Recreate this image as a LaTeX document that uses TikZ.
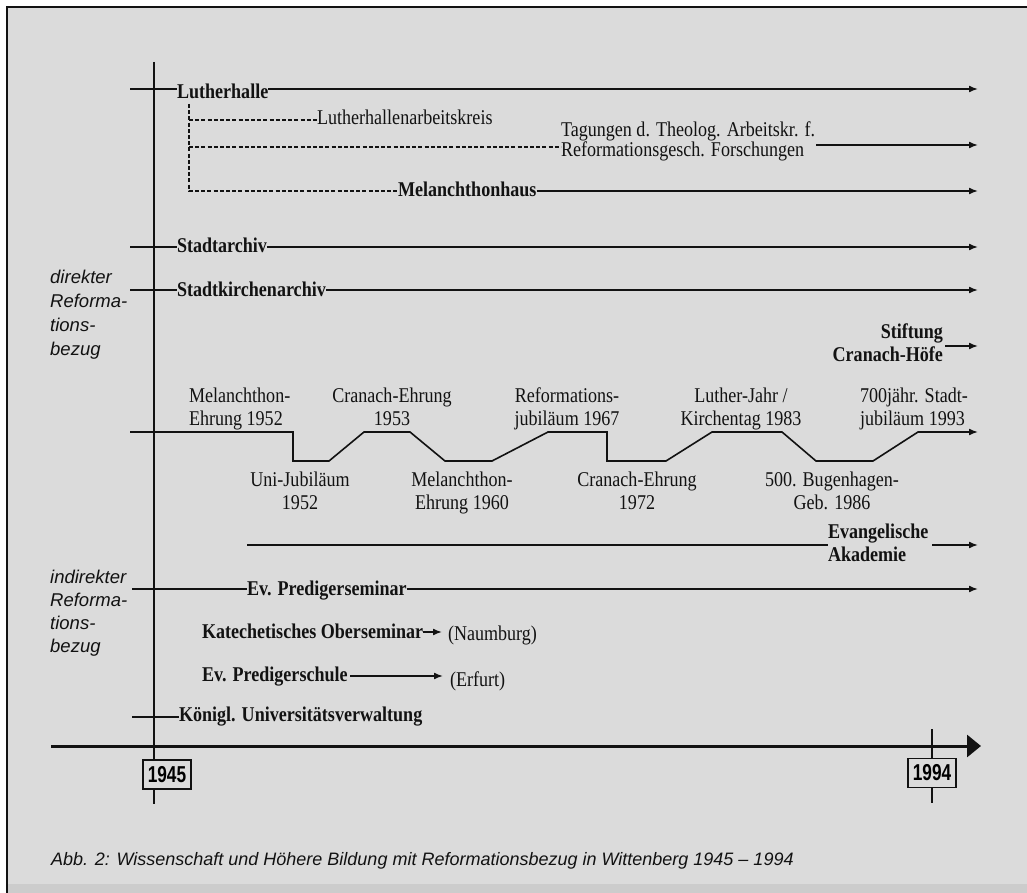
\documentclass[tikz,border=0pt]{standalone}
\usepackage{fontspec}
\setmainfont[FakeStretch=0.86]{Liberation Serif}
\setsansfont{Liberation Sans}
\usetikzlibrary{arrows.meta}
\definecolor{bg}{RGB}{219,219,219}
\definecolor{bgdark}{RGB}{204,204,204}
\definecolor{ink}{RGB}{18,18,18}
\tikzset{
  ln/.style={draw=ink, line width=1.6pt},
  arr/.style={ln, -{Latex[length=9pt,width=7pt]}},
  dsh/.style={draw=ink, line width=1.1pt, dash pattern=on 4pt off 2.2pt},
  txt/.style={inner sep=0pt, outer sep=0pt, text=ink, font=\fontsize{21}{23}\selectfont},
  btxt/.style={inner sep=0pt, outer sep=0pt, text=ink, font=\fontsize{21}{23}\selectfont\bfseries},
  side/.style={inner sep=0pt, text=ink, font=\fontsize{18.5}{24}\selectfont\sffamily\itshape, align=left, anchor=base west},
  yearbox/.style={draw=ink, line width=1.6pt, fill=bg, minimum width=48pt, minimum height=29pt, inner sep=0pt, font=\fontsize{23}{23}\selectfont\sffamily\bfseries},
}
\begin{document}
\begin{tikzpicture}[x=1pt,y=-1pt]
\useasboundingbox (0,0) rectangle (1027,893);
% background and frame
\fill[white] (0,0) rectangle (1027,893);
\fill[bg] (7,7) rectangle (1027,893);
\fill[bgdark] (7,884) rectangle (1027,893);
\draw[ink, line width=2.8pt] (7,893) -- (7,7) -- (1027,7);

% year boxes and axes
\node[yearbox] (y45) at (167,774.5) {\scalebox{0.75}[1]{1945}};
\node[yearbox] (y94) at (932,773) {\scalebox{0.75}[1]{1994}};
\coordinate (vtop) at (154,62);
\coordinate (vbot) at (154,804);
\draw[ln] (vtop) -- (vtop |- y45.north);
\draw[ln] (vbot |- y45.south) -- (vbot);
\coordinate (t0) at (51,746);
\coordinate (t1) at (981,746);
\draw[ink, line width=3pt, -{Triangle[length=14pt,width=22pt]}] (t0) -- (t1);
\coordinate (y94t) at (932,729);
\coordinate (y94b) at (932,803);
\draw[ln] (y94t) -- (y94.north);
\draw[ln] (y94.south) -- (y94b);

% side labels (anchor = baseline of last line)
\node[side] (dir) at (50,355) {direkter\\Reforma-\\tions-\\bezug};
\node[side, font=\fontsize{18.5}{23}\selectfont\sffamily\itshape] (indir) at (50,652) {indirekter\\Reforma-\\tions-\\bezug};

% Lutherhalle
\node[btxt, anchor=base west] (lh) at (177,99) {Lutherhalle};
\coordinate (lh0) at (130,89);
\coordinate (lh1) at (978,89);
\draw[ln] (lh0) -- (lh.west |- lh0);
\draw[arr] (lh.east |- lh0) -- (lh1);

% dashed branches
\node[txt, anchor=base west] (lak) at (317,125) {Lutherhallenarbeitskreis};
\node[txt, anchor=base west, align=left, font=\fontsize{21}{19}\selectfont] (tag) at (561,157) {Tagungen d. Theolog. Arbeitskr. f.\\Reformationsgesch. Forschungen};
\node[btxt, anchor=base west] (mh) at (398,197) {Melanchthonhaus};
\coordinate (d0) at (189,104);
\coordinate (d1) at (189,120);
\coordinate (d2) at (189,147);
\coordinate (d3) at (189,191);
\draw[dsh] (d0) -- (d3) -- (mh.west |- d3);
\draw[dsh] (d1) -- (lak.west |- d1);
\draw[dsh] (d2) -- (tag.west |- d2);
\coordinate (tg0) at (816,145);
\coordinate (tg1) at (978,145);
\draw[arr] (tg0) -- (tg1);
\coordinate (mh1) at (978,191);
\draw[arr] (mh.east |- d3) -- (mh1);

% Stadtarchiv
\node[btxt, anchor=base west] (sa) at (177,253) {Stadtarchiv};
\coordinate (sa0) at (130,247);
\coordinate (sa1) at (978,247);
\draw[ln] (sa0) -- (sa.west |- sa0);
\draw[arr] (sa.east |- sa0) -- (sa1);

% Stadtkirchenarchiv
\node[btxt, anchor=base west] (ska) at (177,296) {Stadtkirchenarchiv};
\coordinate (ska0) at (130,290);
\coordinate (ska1) at (978,290);
\draw[ln] (ska0) -- (ska.west |- ska0);
\draw[arr] (ska.east |- ska0) -- (ska1);

% Stiftung Cranach-Hoefe
\node[btxt, anchor=base east, align=right] (stift) at (943,361) {Stiftung\\Cranach-Höfe};
\coordinate (st0) at (945,346);
\coordinate (st1) at (978,346);
\draw[arr] (st0) -- (st1);

% zigzag of anniversaries
\coordinate (z0) at (130,432);
\coordinate (z1) at (978,432);
\draw[ln, -{Latex[length=9pt,width=7pt]}] (z0) -- (293,432) -- (293,461) -- (329,461) -- (364,432) -- (410,432)
  -- (445,461) -- (492,461) -- (548,432) -- (607,432) -- (607,461) -- (666,461) -- (712,432)
  -- (782,432) -- (816,461) -- (873,461) -- (918,432) -- (z1);
\node[txt, anchor=base west, align=left] (a1) at (189,425) {Melanchthon-\\Ehrung 1952};
\node[txt, anchor=base, align=center] (a2) at (392,425) {Cranach-Ehrung\\1953};
\node[txt, anchor=base, align=center] (a3) at (567,425) {Reformations-\\jubiläum 1967};
\node[txt, anchor=base, align=center] (a4) at (741,425) {Luther-Jahr /\\Kirchentag 1983};
\node[txt, anchor=base west, align=left] (a5) at (860,425) {700jähr. Stadt-\\jubiläum 1993};
\node[txt, anchor=base, align=center] (b1) at (300,509) {Uni-Jubiläum\\1952};
\node[txt, anchor=base, align=center] (b2) at (462,509) {Melanchthon-\\Ehrung 1960};
\node[txt, anchor=base, align=center] (b3) at (637,509) {Cranach-Ehrung\\1972};
\node[txt, anchor=base, align=center] (b4) at (832,509) {500. Bugenhagen-\\Geb. 1986};

% Evangelische Akademie
\node[btxt, anchor=base west, align=left] (ea) at (828,561) {Evangelische\\Akademie};
\coordinate (ea0) at (247,545);
\draw[ln] (ea0) -- (ea.west |- ea0);
\coordinate (ea1) at (932,545);
\coordinate (ea2) at (978,545);
\draw[arr] (ea1) -- (ea2);

% Ev. Predigerseminar
\node[btxt, anchor=base west] (eps) at (247,595) {Ev. Predigerseminar};
\coordinate (eps0) at (132,589);
\coordinate (eps1) at (978,589);
\draw[ln] (eps0) -- (eps.west |- eps0);
\draw[arr] (eps.east |- eps0) -- (eps1);

% Katechetisches Oberseminar
\node[btxt, anchor=base west] (kat) at (202,638) {Katechetisches Oberseminar};
\node[txt, anchor=base west] (naum) at (448,640) {(Naumburg)};
\coordinate (kat0) at (421,632);
\draw[arr] (kat.east |- kat0) -- ([xshift=-6pt]naum.west |- kat0);

% Ev. Predigerschule
\node[btxt, anchor=base west] (epsch) at (202,681) {Ev. Predigerschule};
\node[txt, anchor=base west] (erf) at (450,686) {(Erfurt)};
\coordinate (ep0) at (350,676);
\coordinate (ep1) at (443,676);
\draw[arr] (ep0) -- (ep1);

% Koenigl. Universitaetsverwaltung
\node[btxt, anchor=base west] (kuv) at (179,721) {Königl. Universitätsverwaltung};
\coordinate (kuv0) at (132,717);
\draw[ln] (kuv0) -- (kuv.west |- kuv0);

% caption
\node[inner sep=0pt, text=ink, anchor=base west, font=\fontsize{18}{22}\selectfont\sffamily\itshape] (cap) at (51,865)
  {Abb. 2: Wissenschaft und Höhere Bildung mit Reformationsbezug in Wittenberg 1945 – 1994};
\end{tikzpicture}
\end{document}
